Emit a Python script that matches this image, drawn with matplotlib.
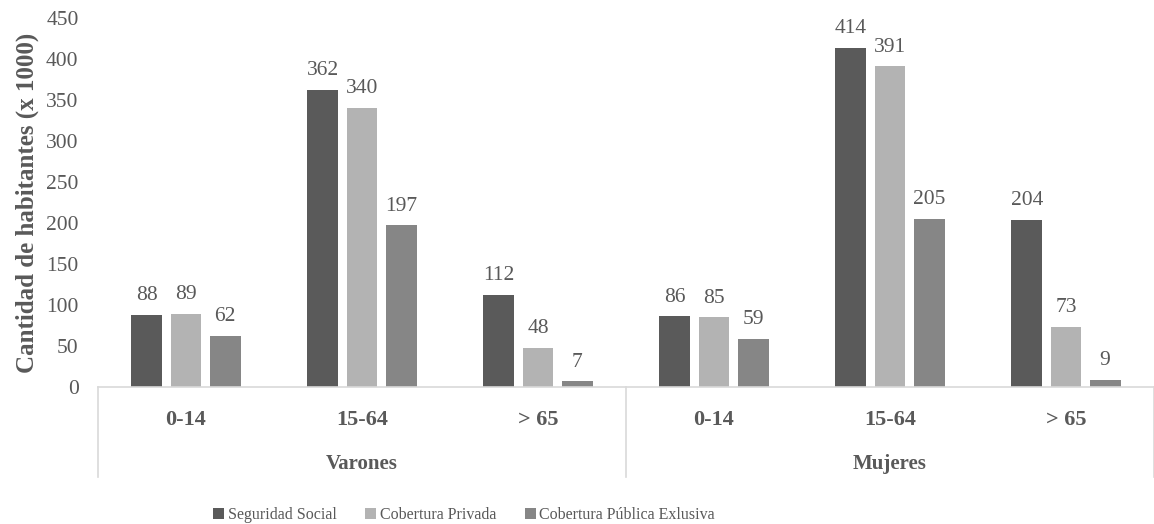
import numpy as np
import matplotlib.pyplot as plt
from matplotlib.transforms import blended_transform_factory

groups = ["Varones", "Mujeres"]
age_bands = ["0-14", "15-64", "> 65"]
series_names = ["Seguridad Social", "Cobertura Privada", "Cobertura Pública Exlusiva"]
seguridad_social = [88, 362, 112, 86, 414, 204]
cobertura_privada = [89, 340, 48, 85, 391, 73]
cobertura_publica = [62, 197, 7, 59, 205, 9]

colors = ["#5a5a5a", "#b3b3b3", "#868686"]
text_color = "#595959"
line_color = "#d9d9d9"

plt.rcParams["font.family"] = ["Liberation Serif", "DejaVu Serif"]

fig = plt.figure(figsize=(11.54, 5.24), dpi=100)
ax = fig.add_axes([98 / 1154, 137 / 524, 1 - 98 / 1154, 369 / 524])

x = np.arange(len(seguridad_social))
width = 0.176
step = 0.222
series = [seguridad_social, cobertura_privada, cobertura_publica]
for i, (vals, name, c) in enumerate(zip(series, series_names, colors)):
    bars = ax.bar(x + (i - 1) * step, vals, width, color=c, label=name)
    ax.bar_label(bars, padding=7, fontsize=15.5, color=text_color)

ax.set_xlim(-0.5, len(x) - 0.5)
ax.set_ylim(0, 450)
ax.set_yticks(np.arange(0, 451, 50))
ax.tick_params(axis="y", length=0, labelsize=15.5, labelcolor=text_color, pad=14)
ax.set_xticks([])
for s in ["top", "right", "left"]:
    ax.spines[s].set_visible(False)
ax.spines["bottom"].set_color(line_color)
ax.spines["bottom"].set_linewidth(1.2)

ax.set_ylabel("Cantidad de habitantes (x 1000)", fontsize=18, fontweight="bold",
              color=text_color, labelpad=5)

# two-level category axis below the plot
trans = blended_transform_factory(ax.transData, ax.transAxes)
for xi, lab in zip(x, age_bands * len(groups)):
    ax.text(xi, -0.09, lab, transform=trans, ha="center", va="center",
            fontsize=16, fontweight="bold", color=text_color)
for gi, g in enumerate(groups):
    ax.text(gi * 3 + 1, -0.21, g, transform=trans, ha="center", va="center",
            fontsize=15, fontweight="bold", color=text_color)
for xs in [-0.5, 2.5, 5.5]:
    ax.plot([xs, xs], [0, -0.245], transform=trans, color=line_color,
            lw=1.2, clip_on=False)

fig.legend(loc="lower center", ncol=3, frameon=False, fontsize=11.5,
           bbox_to_anchor=(464 / 1154, -0.025), handlelength=0.7, handleheight=0.7,
           handletextpad=0.2, columnspacing=1.8, labelcolor=text_color)

fig.savefig("out.png", dpi=100)
